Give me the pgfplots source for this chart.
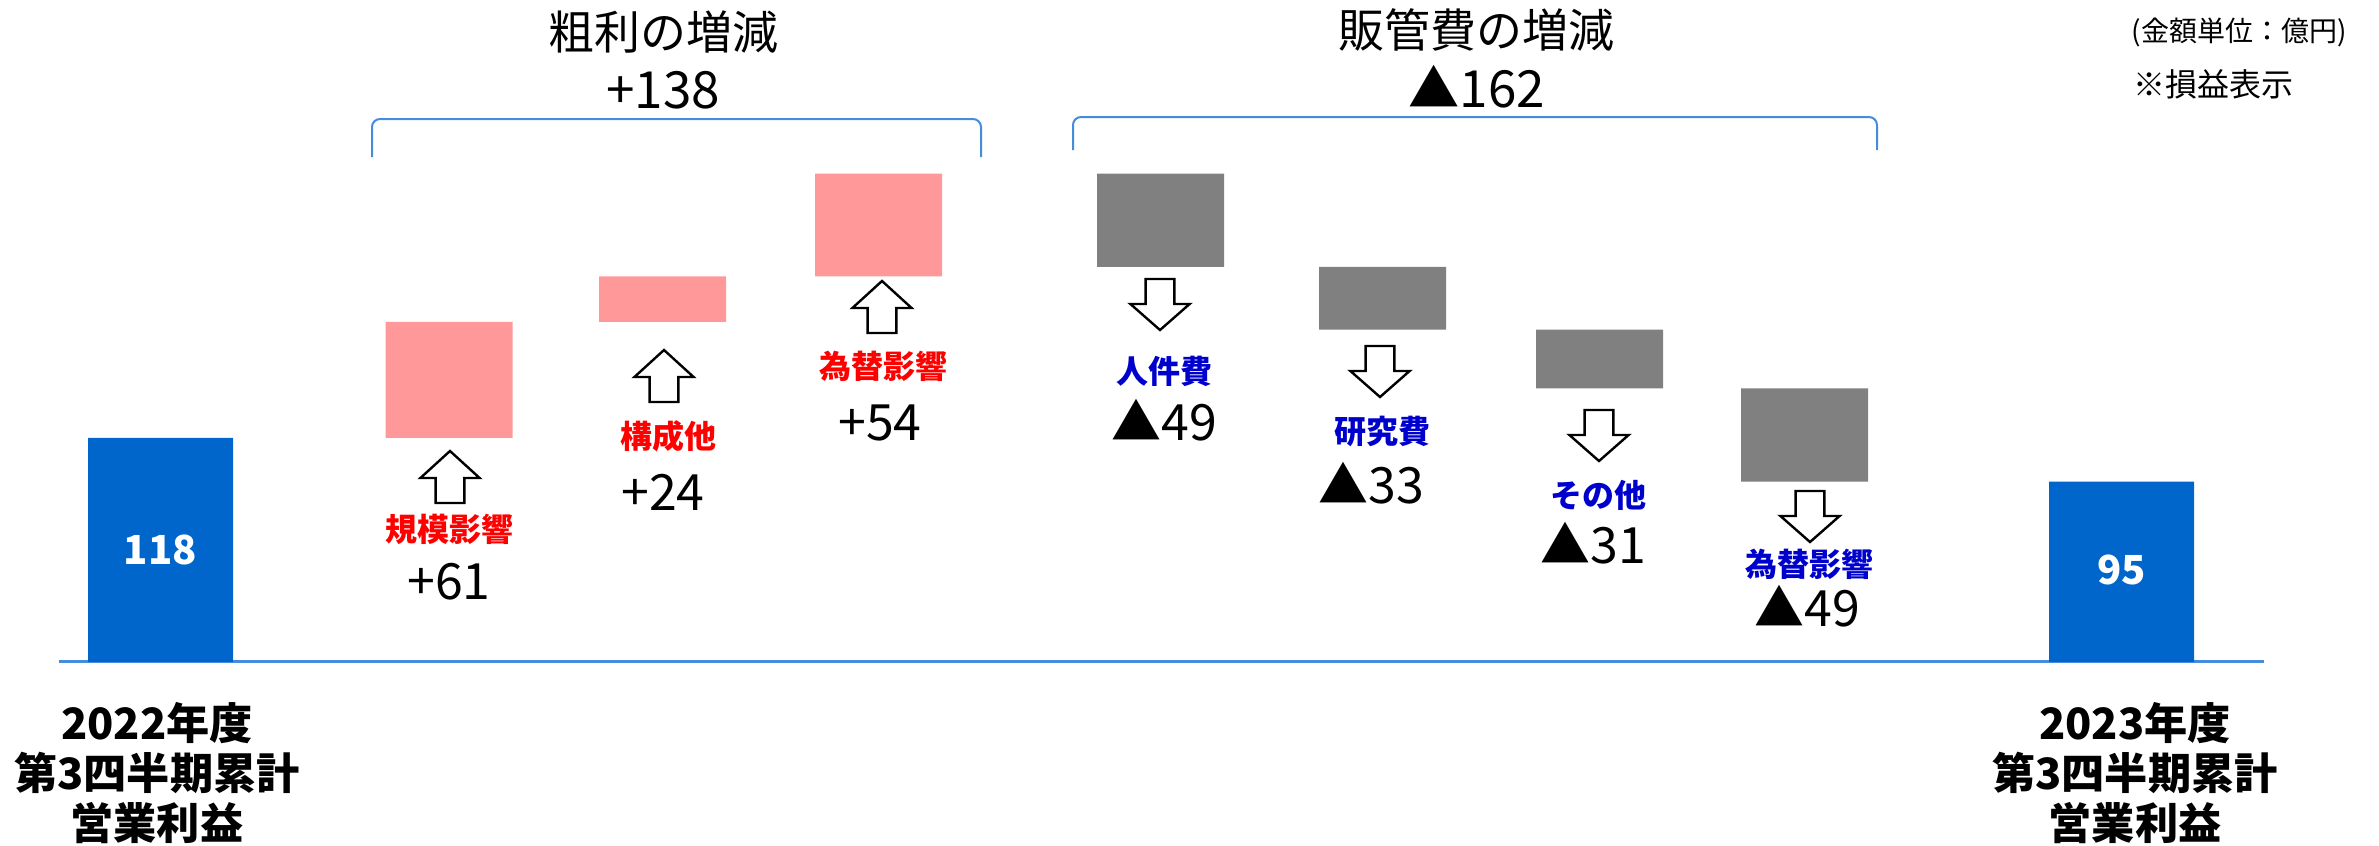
\documentclass[border=0pt]{standalone}
\usepackage{pgfplots}
\pgfplotsset{compat=1.18}
\usepackage{fontspec}
\setmainfont{Noto Sans CJK JP}

\definecolor{barblue}{RGB}{0,102,204}
\definecolor{barpink}{RGB}{255,153,153}
\definecolor{bargray}{RGB}{128,128,128}
\definecolor{lineblue}{RGB}{70,140,220}
\definecolor{txtred}{RGB}{255,0,0}
\definecolor{txtblue}{RGB}{0,0,204}

% picture row (px from top) -> data value; baseline at px 662, 1.9 px per unit
\newcommand{\Y}[1]{{(662-#1)/1.9}}
\newcommand{\UpArr}[2]{\draw[line width=0.6pt, fill=white] (axis cs:#1,\Y{#2}) -- ++(7.4pt,-6.75pt) -- ++(-3.8pt,0pt) -- ++(0pt,-6.25pt) -- ++(-7.2pt,0pt) -- ++(0pt,6.25pt) -- ++(-3.8pt,0pt) -- cycle;}
\newcommand{\DnArr}[2]{\draw[line width=0.6pt, fill=white] (axis cs:#1,\Y{#2}) ++(-3.6pt,0pt) -- ++(7.2pt,0pt) -- ++(0pt,-6.25pt) -- ++(3.8pt,0pt) -- ++(-7.4pt,-6.5pt) -- ++(-7.4pt,6.5pt) -- ++(3.8pt,0pt) -- cycle;}

\begin{document}
\begin{tikzpicture}
\begin{axis}[
    hide axis, scale only axis,
    width=594.75pt, height=211.5pt,
    xmin=0, xmax=2379, ymin=-96.842, ymax=348.421,
    ybar stacked, bar width=127, clip=false,
]
% invisible base of the floating bars
\addplot[ybar stacked, draw=none, fill=none] coordinates
  {(160.5,0) (449,118) (662.5,179) (878.5,203) (1160.5,208) (1382.5,175) (1599.5,144) (1804.5,95) (2121.5,0)};
% gross profit increases
\addplot[ybar stacked, draw=none, fill=barpink] coordinates
  {(160.5,0) (449,61) (662.5,24) (878.5,54) (1160.5,0) (1382.5,0) (1599.5,0) (1804.5,0) (2121.5,0)};
% SG&A increases (shown as decreases)
\addplot[ybar stacked, draw=none, fill=bargray] coordinates
  {(160.5,0) (449,0) (662.5,0) (878.5,0) (1160.5,49) (1382.5,33) (1599.5,31) (1804.5,49) (2121.5,0)};
% operating profit totals
\addplot[ybar stacked, draw=none, fill=barblue, bar width=145] coordinates
  {(160.5,118) (449,0) (662.5,0) (878.5,0) (1160.5,0) (1382.5,0) (1599.5,0) (1804.5,0) (2121.5,95)};

\draw[lineblue, line width=0.75pt] (axis cs:59,0) -- (axis cs:2264,0);
\coordinate (lab118) at (axis cs:160.5,\Y{550});
\coordinate (lab95) at (axis cs:2121.5,\Y{570});

% brackets
\draw[lineblue, line width=0.5pt, rounded corners=2pt] (axis cs:372,\Y{157}) |- (axis cs:981,\Y{119}) -- (axis cs:981,\Y{157});
\draw[lineblue, line width=0.5pt, rounded corners=2pt] (axis cs:1073,\Y{150}) |- (axis cs:1877,\Y{117}) -- (axis cs:1877,\Y{150});

% headings
\node[inner sep=0, font=\fontsize{11.5}{13}\selectfont] at (axis cs:663,\Y{32}) {粗利の増減};
\node[inner sep=0, font=\fontsize{12.8}{14}\selectfont] at (axis cs:663,\Y{90}) {+138};
\node[inner sep=0, font=\fontsize{11.5}{13}\selectfont] at (axis cs:1476,\Y{30}) {販管費の増減};
\node[inner sep=0, font=\fontsize{12.8}{14}\selectfont] at (axis cs:1477,\Y{87}) {▲162};
\node[inner sep=0, font=\fontsize{7}{8}\selectfont] at (axis cs:2239,\Y{32}) {(金額単位：億円)};
\node[inner sep=0, font=\fontsize{8}{9}\selectfont] at (axis cs:2213,\Y{84}) {※損益表示};

% item arrows and labels
\UpArr{450}{451}
\node[inner sep=0, text=txtred, font=\bfseries\fontsize{8}{9}\selectfont] at (axis cs:449,\Y{529}) {規模影響};
\node[inner sep=0, font=\fontsize{12.5}{14}\selectfont] at (axis cs:449,\Y{582}) {+61};

\UpArr{664}{350}
\node[inner sep=0, text=txtred, font=\bfseries\fontsize{8}{9}\selectfont] at (axis cs:668,\Y{436}) {構成他};
\node[inner sep=0, font=\fontsize{12.5}{14}\selectfont] at (axis cs:663,\Y{492}) {+24};

\UpArr{882}{281}
\node[inner sep=0, text=txtred, font=\bfseries\fontsize{8}{9}\selectfont] at (axis cs:883,\Y{366}) {為替影響};
\node[inner sep=0, font=\fontsize{12.5}{14}\selectfont] at (axis cs:880,\Y{423}) {+54};

\DnArr{1160}{279}
\node[inner sep=0, text=txtblue, font=\bfseries\fontsize{8}{9}\selectfont] at (axis cs:1164,\Y{371}) {人件費};
\node[inner sep=0, font=\fontsize{12.5}{14}\selectfont] at (axis cs:1164,\Y{420}) {▲49};

\DnArr{1380}{346}
\node[inner sep=0, text=txtblue, font=\bfseries\fontsize{8}{9}\selectfont] at (axis cs:1382,\Y{431}) {研究費};
\node[inner sep=0, font=\fontsize{12.5}{14}\selectfont] at (axis cs:1371,\Y{483}) {▲33};

\DnArr{1599}{410}
\node[inner sep=0, text=txtblue, font=\bfseries\fontsize{8}{9}\selectfont] at (axis cs:1598,\Y{495}) {その他};
\node[inner sep=0, font=\fontsize{12.5}{14}\selectfont] at (axis cs:1593,\Y{543}) {▲31};

\DnArr{1810}{491}
\node[inner sep=0, text=txtblue, font=\bfseries\fontsize{8}{9}\selectfont] at (axis cs:1809,\Y{564}) {為替影響};
\node[inner sep=0, font=\fontsize{12.5}{14}\selectfont] at (axis cs:1807,\Y{606}) {▲49};

% period labels
\node[inner sep=0, align=center, font=\bfseries\fontsize{10.8}{12.5}\selectfont] at (axis cs:157,\Y{773}) {2022年度\\第3四半期累計\\営業利益};
\node[inner sep=0, align=center, font=\bfseries\fontsize{10.8}{12.5}\selectfont] at (axis cs:2135,\Y{773}) {2023年度\\第3四半期累計\\営業利益};
\end{axis}
% totals written on the blue bars (after the bars are drawn)
\node[inner sep=0, text=white, font=\bfseries\fontsize{10}{11}\selectfont] at (lab118) {118};
\node[inner sep=0, text=white, font=\bfseries\fontsize{10}{11}\selectfont] at (lab95) {95};
\pgfresetboundingbox
\path[use as bounding box] (current axis.south west) rectangle (current axis.north east);
\end{tikzpicture}
\end{document}
